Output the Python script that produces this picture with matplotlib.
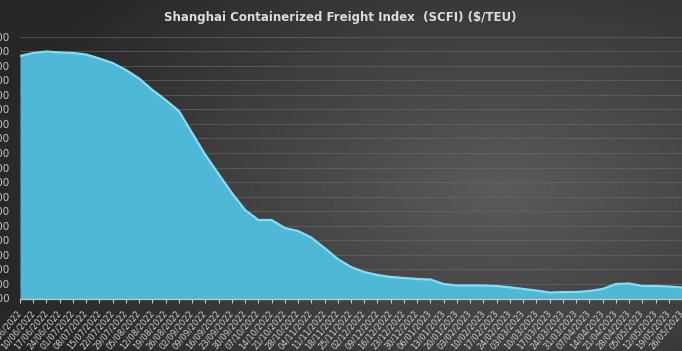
import numpy as np
import matplotlib
matplotlib.use("Agg")
import matplotlib.pyplot as plt

# Weekly SCFI readings ($/TEU)
dates = ["03/06/2022", "10/06/2022", "17/06/2022", "24/06/2022", "01/07/2022", "08/07/2022",
         "15/07/2022", "22/07/2022", "29/07/2022", "05/08/2022", "12/08/2022", "19/08/2022",
         "26/08/2022", "02/09/2022", "09/09/2022", "16/09/2022", "23/09/2022", "30/09/2022",
         "07/10/2022", "14/10/2022", "21/10/2022", "28/10/2022", "04/11/2022", "11/11/2022",
         "18/11/2022", "25/11/2022", "02/12/2022", "09/12/2022", "16/12/2022", "23/12/2022",
         "30/12/2022", "06/01/2023", "13/01/2023", "20/01/2023", "03/02/2023", "10/02/2023",
         "17/02/2023", "24/02/2023", "03/03/2023", "10/03/2023", "17/03/2023", "24/03/2023",
         "31/03/2023", "07/04/2023", "14/04/2023", "21/04/2023", "28/04/2023", "05/05/2023",
         "12/05/2023", "19/05/2023", "26/05/2023"]
scfi = [4133, 4175, 4195, 4182, 4175, 4154, 4099, 4037, 3941, 3824, 3666, 3529,
        3377, 3075, 2773, 2511, 2250, 2017, 1879, 1879, 1769, 1728, 1638, 1494,
        1343, 1233, 1164, 1123, 1096, 1082, 1068, 1061, 999, 979, 979, 979,
        972, 954, 931, 910, 882, 889, 889, 903, 931, 999, 1006, 972,
        972, 965, 951]
yticks = list(range(800, 4401, 200))

narrow = ["Liberation Sans Narrow", "DejaVu Sans"]

W, H = 682, 351
fig = plt.figure(figsize=(W / 100, H / 100), dpi=100)

# dark radial background
bg = fig.add_axes([0, 0, 1, 1], zorder=0)
yy, xx = np.mgrid[0:H, 0:W]
d = np.sqrt(((xx - 500) / 520.0) ** 2 + ((yy - 190) / 290.0) ** 2)
d = np.clip(d, 0, 1)
shade = 0.355 - 0.2 * d
bg.imshow(np.dstack([shade, shade, shade]), aspect="auto", extent=[0, W, H, 0])
bg.axis("off")

x0, x1 = 20, 682
ytop, ybot = 36.6, 298.5
ax = fig.add_axes([x0 / W, (H - ybot) / H, (x1 - x0) / W, (ybot - ytop) / H], zorder=1)
ax.patch.set_alpha(0)

x = np.arange(len(scfi))
ax.fill_between(x, 800, scfi, color="#4fb8d6", lw=0, zorder=2)
ax.plot(x, scfi, color="#86dcf2", lw=1.6, zorder=3, solid_joinstyle="round")

ax.set_xlim(0, len(scfi) - 1)
ax.set_ylim(800, 4400)
ax.set_yticks(yticks)
ax.set_yticklabels([str(v) for v in yticks], color="#c4c4c4", fontsize=7.5, family=narrow)
ax.tick_params(axis="y", length=0, pad=7.5)
ax.grid(axis="y", color="#6b6b6b", lw=0.6, alpha=0.7, zorder=1)

ax.set_xticks(x)
ax.set_xticklabels(dates, rotation=50, ha="right", va="center", rotation_mode="anchor",
                   color="#d0d0d0", fontsize=6.0, family=narrow)
ax.tick_params(axis="x", length=3, color="#c8c8c8", width=0.8, pad=6)

for s in ["top", "right", "left"]:
    ax.spines[s].set_visible(False)
ax.spines["bottom"].set_color("#c8c8c8")
ax.spines["bottom"].set_linewidth(0.9)

fig.text(340 / W, 1 - 17 / H, "Shanghai Containerized Freight Index  (SCFI) ($/TEU)",
         ha="center", va="center", color="#dcdcdc", fontsize=8.5, fontweight="bold")

fig.savefig("out.png", dpi=100)
